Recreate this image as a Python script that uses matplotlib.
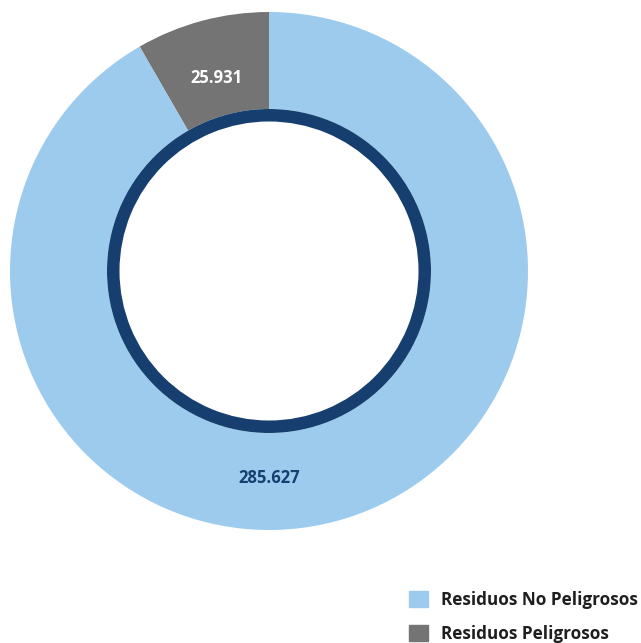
import matplotlib.pyplot as plt
from matplotlib.patches import Patch

labels = ["Residuos Peligrosos", "Residuos No Peligrosos"]
values = [25931, 285627]
value_text = ["25.931", "285.627"]
colors = ["#747474", "#9ccbee"]
ring_color = "#163f6f"

plt.rcParams["font.family"] = ["Open Sans", "DejaVu Sans"]

W, H = 641, 643
fig = plt.figure(figsize=(W / 100, H / 100), dpi=100)
ax = fig.add_axes([0, 0, 1, 1])

cx, cy = 269, H - 271
r_out = 259
r_in = 162

wedges, _ = ax.pie(values, colors=colors, startangle=90, counterclock=True,
                   radius=r_out, center=(cx, cy),
                   wedgeprops=dict(width=r_out - r_in, linewidth=0))
# dark inner ring
ax.pie([1], colors=[ring_color], radius=r_in, center=(cx, cy),
       wedgeprops=dict(width=12.5, linewidth=0))

ax.set_xlim(0, W)
ax.set_ylim(0, H)
ax.set_aspect("equal")
ax.axis("off")

ax.text(216, H - 78, value_text[0], color="white", fontsize=12,
        fontweight="bold", ha="center", va="center")
ax.text(269, H - 478, value_text[1], color=ring_color, fontsize=12,
        fontweight="bold", ha="center", va="center")

handles = [Patch(color=colors[1], label=labels[1]),
           Patch(color=colors[0], label=labels[0])]
fig.legend(handles=handles, loc="lower left", bbox_to_anchor=(394 / W, -15 / H),
           frameon=False, handlelength=1.07, handleheight=1.07,
           handletextpad=0.8, labelspacing=0.9, labelcolor="#1e1e1e",
           prop=dict(weight="bold", size=12.3))

fig.savefig("out.png", dpi=100)
